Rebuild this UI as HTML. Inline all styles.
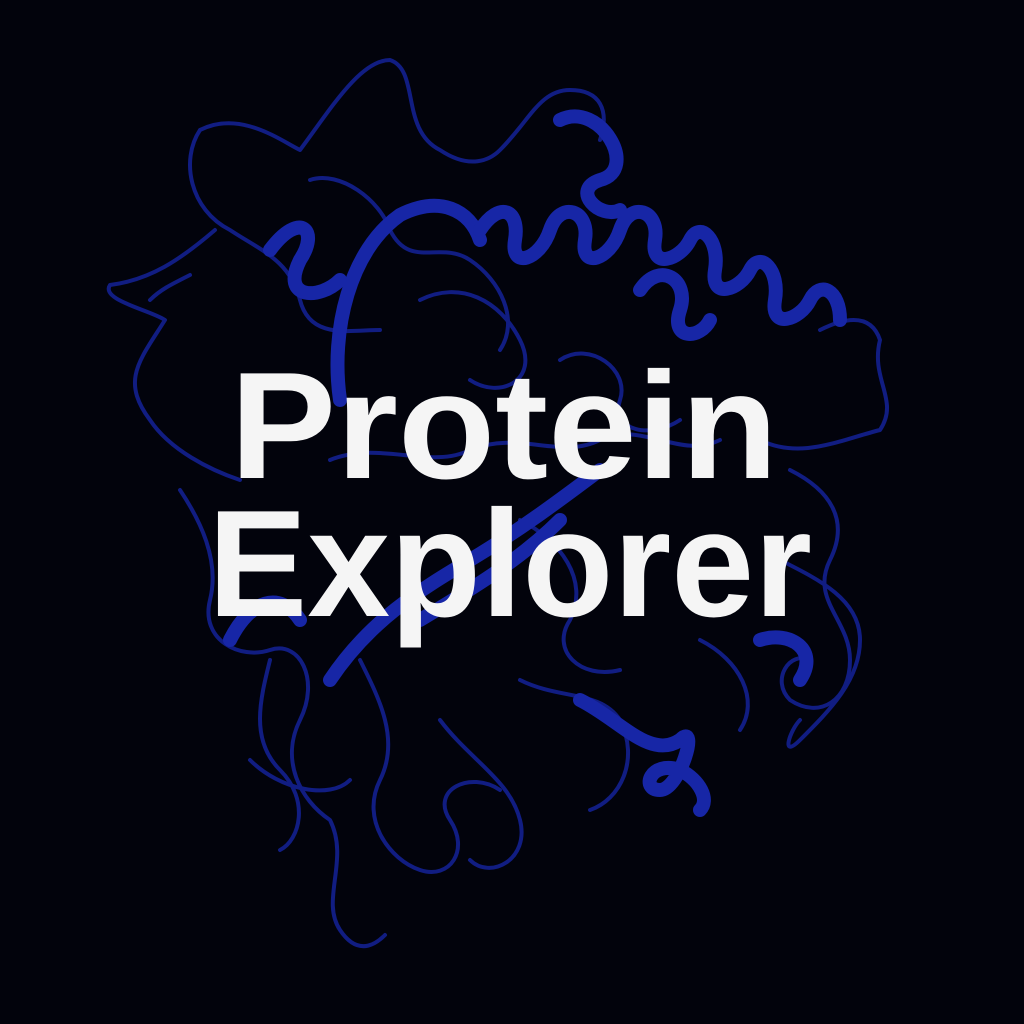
<!DOCTYPE html>
<html>
<head>
<meta charset="utf-8">
<style>
  html,body{margin:0;padding:0;background:#02030c;}
  svg{display:block;}
</style>
</head>
<body>
<svg width="1024" height="1024" viewBox="0 0 1024 1024" xmlns="http://www.w3.org/2000/svg">
  <rect width="1024" height="1024" fill="#02030c"/>

  <g fill="none" stroke="#13208f" stroke-width="4" stroke-linecap="round" stroke-linejoin="round" opacity="0.9">
    <path d="M215,230 C180,260 150,280 110,285 C100,300 150,310 165,320 C140,360 120,380 150,420 C170,450 210,470 240,480"/>
    <path d="M190,275 C170,285 160,290 150,300"/>
    <path d="M200,130 C240,110 280,140 300,150 C330,110 360,60 390,60 C420,70 400,130 440,150 C470,170 490,160 500,150 C530,120 540,90 570,90 C600,90 610,110 600,140"/>
    <path d="M200,130 C180,160 190,210 230,230 C260,250 290,260 300,300 C310,340 350,330 380,330"/>
    <path d="M310,180 C340,170 380,200 390,230 C410,270 440,240 470,260 C500,280 520,320 500,350"/>
    <path d="M420,300 C460,280 500,300 520,340 C540,380 500,400 470,380"/>
    <path d="M180,490 C200,520 220,560 210,600 C200,640 240,660 270,650 C300,640 320,680 300,720 C280,760 300,800 330,820 C350,860 320,900 340,930 C360,960 380,940 385,935"/>
    <path d="M270,660 C260,700 250,740 280,770 C310,800 300,840 280,850"/>
    <path d="M360,660 C380,700 400,740 380,780 C360,820 390,860 420,870 C450,880 470,850 450,820 C430,790 470,770 500,790"/>
    <path d="M440,720 C470,760 510,780 520,820 C530,860 490,880 470,860"/>
    <path d="M520,680 C560,700 600,690 620,720 C640,760 620,800 590,810"/>
    <path d="M760,440 C800,460 840,440 880,430 C900,400 870,380 880,340 C870,310 840,320 820,330"/>
    <path d="M790,470 C830,490 850,520 830,560 C810,600 850,620 850,660 C850,700 820,720 790,700 C770,680 790,650 810,660"/>
    <path d="M780,560 C820,580 860,600 860,640 C860,680 830,710 800,740 C780,760 790,730 800,720"/>
    <path d="M700,640 C740,660 760,700 740,730"/>
    <path d="M330,460 C380,440 430,470 470,450 C520,430 560,460 600,440 C640,420 680,460 720,440"/>
    <path d="M560,360 C590,340 630,370 620,400 C610,430 650,440 680,420"/>
    <path d="M250,760 C280,790 330,800 350,780"/>
    <path d="M520,520 C560,540 590,580 570,620 C550,650 580,680 620,670"/>
  </g>

  <g fill="none" stroke="#1726a6" stroke-width="14" stroke-linecap="round" stroke-linejoin="round">
    <path d="M340,400 C330,330 350,250 400,215 C440,195 470,210 480,240"/>
    <path d="M270,250 C300,210 320,230 300,260 C280,300 320,300 340,280"/>
    <path d="M480,230 C500,200 520,210 515,240 C510,270 540,260 550,230 C560,200 590,210 585,240 C580,270 610,260 620,230 C630,200 660,210 655,240 C650,270 680,260 690,240 C700,220 720,240 715,270 C710,300 740,290 750,270 C760,250 780,270 775,300 C770,330 800,320 810,300 C820,280 840,290 840,320"/>
    <path d="M560,120 C600,100 640,170 600,180 C570,190 600,220 620,210"/>
    <path d="M640,290 C660,260 690,280 680,310 C670,340 700,340 710,320"/>
    <path d="M330,680 C370,620 420,590 470,560 C520,530 560,500 600,470"/>
    <path d="M420,620 C470,590 520,560 560,520"/>
    <path d="M580,700 C620,720 650,760 680,740 C700,720 680,790 660,790 C640,790 650,760 680,770 C700,780 710,800 700,810"/>
    <path d="M760,640 C790,630 820,650 800,680"/>
    <path d="M230,640 C250,600 280,590 300,620"/>
  </g>

  <g font-family="'Liberation Sans', 'DejaVu Sans', sans-serif" font-weight="bold" fill="#f5f5f5" text-anchor="start">
    <text x="230" y="478" font-size="152" textLength="548" lengthAdjust="spacingAndGlyphs">Protein</text>
    <text x="208" y="616" font-size="152" textLength="604" lengthAdjust="spacingAndGlyphs">Explorer</text>
  </g>
</svg>
</body>
</html>
